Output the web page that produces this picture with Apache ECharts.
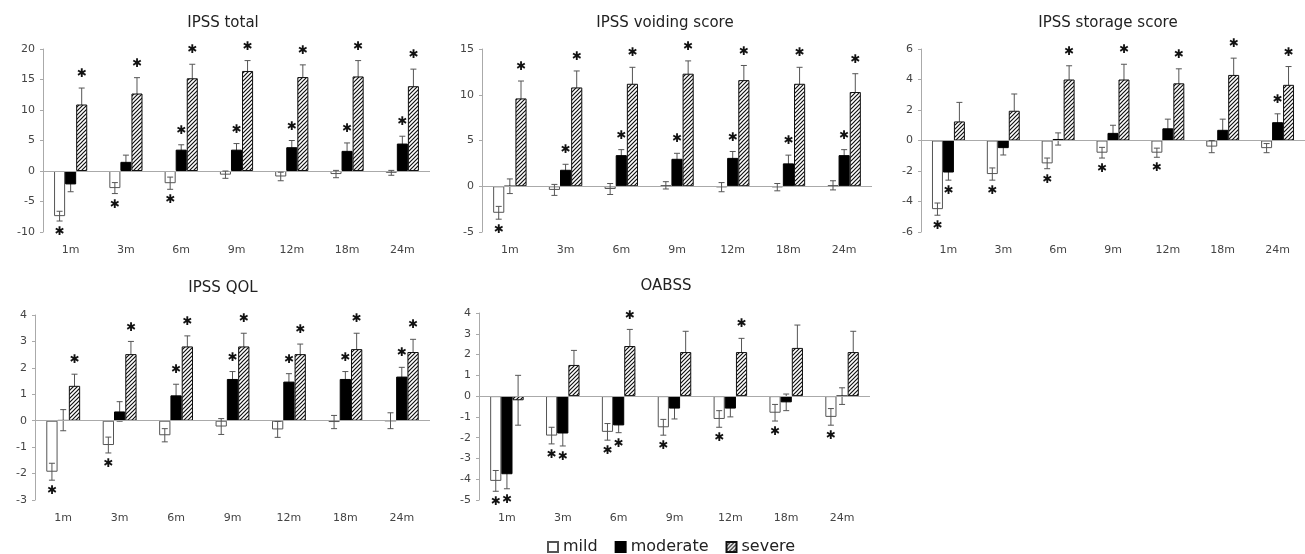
<!DOCTYPE html>
<html><head><meta charset="utf-8">
<script src="https://cdn.jsdelivr.net/npm/echarts@6/dist/echarts.min.js"></script>
<style>html,body{margin:0;padding:0;background:#fff}#c{width:1305px;height:554px}</style>
</head><body><div id="c"></div>
<script>
// ---------- DATA ----------
const months = ['1m','3m','6m','9m','12m','18m','24m'];
const groups = ['mild','moderate','severe'];

// IPSS total
const totalMild = [-7.4,-2.8,-2.0,-0.6,-0.9,-0.5,-0.3];
const totalMildErr = [0.8,0.9,1.0,0.6,0.7,0.6,0.4];
const totalMildSig = [1,1,1,0,0,0,0];
const totalModerate = [-2.2,1.5,3.5,3.5,3.9,3.3,4.5];
const totalModerateErr = [1.2,1.1,0.8,1.0,1.1,1.3,1.2];
const totalModerateSig = [0,0,1,1,1,1,1];
const totalSevere = [10.9,12.7,15.2,16.4,15.4,15.5,13.9];
const totalSevereErr = [2.7,2.6,2.3,1.7,2.0,2.6,2.8];
const totalSevereSig = [1,1,1,1,1,1,1];
const totalTicks = [-10,20,5];

// IPSS voiding score
const voidMild = [-2.9,-0.4,-0.3,0.1,-0.1,-0.1,0.1];
const voidMildErr = [0.7,0.6,0.6,0.4,0.5,0.4,0.5];
const voidMildSig = [1,0,0,0,0,0,0];
const voidModerate = [0.0,1.8,3.4,3.0,3.1,2.5,3.4];
const voidModerateErr = [0.8,0.6,0.6,0.6,0.7,0.9,0.6];
const voidModerateSig = [0,1,1,1,1,1,1];
const voidSevere = [9.6,10.8,11.2,12.3,11.6,11.2,10.3];
const voidSevereErr = [1.9,1.8,1.8,1.4,1.6,1.8,2.0];
const voidSevereSig = [1,1,1,1,1,1,1];
const voidTicks = [-5,15,5];

// IPSS storage score
const storMild = [-4.5,-2.2,-1.5,-0.8,-0.8,-0.4,-0.5];
const storMildErr = [0.4,0.4,0.35,0.35,0.3,0.4,0.3];
const storMildSig = [1,1,1,1,1,0,0];
const storModerate = [-2.1,-0.5,0.1,0.5,0.8,0.7,1.2];
const storModerateErr = [0.5,0.45,0.4,0.5,0.6,0.7,0.55];
const storModerateSig = [1,0,0,0,0,0,1];
const storSevere = [1.25,1.95,4.0,4.0,3.75,4.3,3.65];
const storSevereErr = [1.25,1.1,0.9,1.0,0.95,1.1,1.2];
const storSevereSig = [0,0,1,1,1,1,1];
const storTicks = [-6,6,2];

// IPSS QOL
const qolMild = [-1.93,-0.92,-0.55,-0.22,-0.33,-0.05,0.0];
const qolMildErr = [0.32,0.3,0.25,0.3,0.3,0.25,0.3];
const qolMildSig = [1,1,0,0,0,0,0];
const qolModerate = [0.02,0.35,0.96,1.58,1.48,1.58,1.67];
const qolModerateErr = [0.4,0.37,0.42,0.28,0.3,0.28,0.35];
const qolModerateSig = [0,0,1,1,1,1,1];
const qolSevere = [1.32,2.52,2.81,2.81,2.52,2.71,2.6];
const qolSevereErr = [0.44,0.48,0.4,0.5,0.38,0.6,0.48];
const qolSevereSig = [1,1,1,1,1,1,1];
const qolTicks = [-3,4,1];

// OABSS
const oabMild = [-4.08,-1.9,-1.72,-1.5,-1.1,-0.8,-1.0];
const oabMildErr = [0.5,0.4,0.4,0.38,0.4,0.4,0.4];
const oabMildSig = [1,1,1,1,1,1,1];
const oabModerate = [-3.76,-1.8,-1.41,-0.6,-0.6,-0.3,0.0];
const oabModerateErr = [0.7,0.6,0.35,0.5,0.4,0.4,0.4];
const oabModerateSig = [1,1,1,0,0,0,0];
const oabSevere = [-0.2,1.5,2.41,2.12,2.12,2.32,2.12];
const oabSevereErr = [1.2,0.7,0.8,1.0,0.66,1.1,1.0];
const oabSevereSig = [0,0,1,0,1,0,0];
const oabTicks = [-5,4,1];

const titles = ['IPSS total','IPSS voiding score','IPSS storage score','IPSS QOL','OABSS'];

// ---------- LAYOUT / STYLE ----------
const panelData = [
  {vals:[totalMild,totalModerate,totalSevere], errs:[totalMildErr,totalModerateErr,totalSevereErr], sigs:[totalMildSig,totalModerateSig,totalSevereSig], ticks:totalTicks},
  {vals:[voidMild,voidModerate,voidSevere], errs:[voidMildErr,voidModerateErr,voidSevereErr], sigs:[voidMildSig,voidModerateSig,voidSevereSig], ticks:voidTicks},
  {vals:[storMild,storModerate,storSevere], errs:[storMildErr,storModerateErr,storSevereErr], sigs:[storMildSig,storModerateSig,storSevereSig], ticks:storTicks},
  {vals:[qolMild,qolModerate,qolSevere], errs:[qolMildErr,qolModerateErr,qolSevereErr], sigs:[qolMildSig,qolModerateSig,qolSevereSig], ticks:qolTicks},
  {vals:[oabMild,oabModerate,oabSevere], errs:[oabMildErr,oabModerateErr,oabSevereErr], sigs:[oabMildSig,oabModerateSig,oabSevereSig], ticks:oabTicks}
];
const layout = [
  {grid:{left:43,top:49,width:387,height:183}, title:[223,16]},
  {grid:{left:482,top:49,width:390,height:183}, title:[665,16]},
  {grid:{left:921,top:49,width:397,height:183}, title:[1108,16]},
  {grid:{left:35,top:315,width:395,height:185}, title:[223,281]},
  {grid:{left:479,top:313,width:391,height:187}, title:[666,279]}
];
const FONT = '"DejaVu Sans", Verdana, sans-serif';
const BAR_RATIO = 0.2;

const hatch = (function(){
  const c = document.createElement('canvas'); c.width = 4; c.height = 4;
  const g = c.getContext('2d');
  g.fillStyle = '#fff'; g.fillRect(0,0,4,4);
  g.strokeStyle = '#111'; g.lineWidth = 1.2; g.beginPath();
  g.moveTo(-1,5); g.lineTo(5,-1);
  g.moveTo(-1,1); g.lineTo(1,-1);
  g.moveTo(3,5); g.lineTo(5,3);
  g.stroke();
  return c;
})();

const barStyles = [
  {color:'#fff', borderColor:'#555', borderWidth:1},
  {color:'#000', borderColor:'#000', borderWidth:1},
  {color:{image:hatch, repeat:'repeat'}, borderColor:'#111', borderWidth:1}
];

function makeErr(k){
  return function(params, api){
    const i = api.value(0), v = api.value(1), e = api.value(2), s = api.value(3);
    const band = api.size([1,0])[0];
    const x = api.coord([i,0])[0] + k*band*BAR_RATIO;
    const yHi = api.coord([i, v+e])[1], yLo = api.coord([i, v-e])[1];
    const st = {stroke:'#555', lineWidth:1};
    const ch = [
      {type:'line', shape:{x1:x,y1:yHi,x2:x,y2:yLo}, style:st},
      {type:'line', shape:{x1:x-3,y1:yHi,x2:x+3,y2:yHi}, style:st},
      {type:'line', shape:{x1:x-3,y1:yLo,x2:x+3,y2:yLo}, style:st}
    ];
    if (s) {
      const up = v >= 0;
      ch.push({type:'text', x:x, y: up ? yHi-14 : yLo+11,
        style:{text:'\u2731', fill:'#111', font:'12px '+FONT, align:'center', verticalAlign:'middle'}});
    }
    return {type:'group', children:ch};
  };
}

const option = {animation:false, backgroundColor:'#fff', title:[], grid:[], xAxis:[], yAxis:[], series:[],
  legend:{data:groups.map(n=>({name:n, icon:'rect'})), left:547, top:539, padding:0, itemWidth:10, itemHeight:10, itemGap:17,
    textStyle:{fontFamily:FONT, fontSize:16, color:'#222'}}
};

panelData.forEach((p, pi) => {
  const L = layout[pi];
  option.title.push({text:titles[pi], left:L.title[0], top:L.title[1], textAlign:'center', padding:0,
    textStyle:{fontFamily:FONT, fontSize:15, fontWeight:'normal', color:'#222'}});
  option.grid.push(Object.assign({containLabel:false}, L.grid));
  option.xAxis.push({type:'category', gridIndex:pi, data:months,
    axisLine:{show:false}, axisTick:{show:false},
    axisLabel:{margin:13, fontFamily:FONT, fontSize:11, color:'#444'}});
  option.yAxis.push({type:'value', gridIndex:pi, min:p.ticks[0], max:p.ticks[1], interval:p.ticks[2],
    splitLine:{show:false},
    axisLine:{show:true, lineStyle:{color:'#aaa'}},
    axisTick:{show:true, length:3, lineStyle:{color:'#aaa'}},
    axisLabel:{margin:8, fontFamily:FONT, fontSize:11, color:'#444'}});
  groups.forEach((g, gi) => {
    const s = {name:g, type:'bar', xAxisIndex:pi, yAxisIndex:pi, data:p.vals[gi],
      barWidth:(BAR_RATIO*100)+'%', barGap:'0%', itemStyle:barStyles[gi], z:3};
    if (gi === 0) {
      s.markLine = {silent:true, symbol:['none','none'], label:{show:false},
        lineStyle:{color:'#aaa', width:1, type:'solid'}, data:[{yAxis:0}]};
    }
    option.series.push(s);
    option.series.push({name:'err-'+g, type:'custom', xAxisIndex:pi, yAxisIndex:pi,
      renderItem:makeErr(gi-1), z: gi===0 ? 5 : 2,
      data:months.map((m, i) => [i, p.vals[gi][i], p.errs[gi][i], p.sigs[gi][i]])});
  });
});

const chart = echarts.init(document.getElementById('c'), null, {renderer:'canvas', width:1305, height:554});
chart.setOption(option);
</script>
</body></html>
